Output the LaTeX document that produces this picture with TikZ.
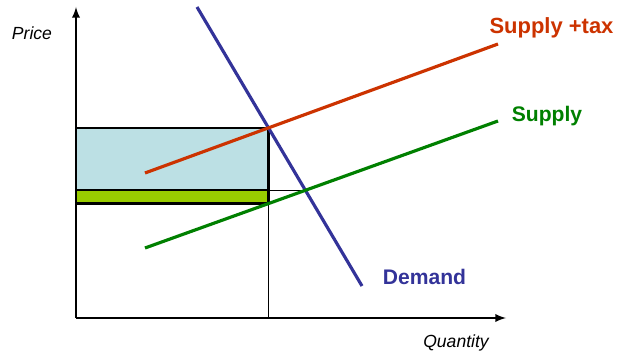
\documentclass[tikz,border=0pt]{standalone}
\usepackage{fontspec}
\setmainfont{Liberation Sans}
\definecolor{taxred}{HTML}{CC3300}
\definecolor{supgreen}{HTML}{008000}
\definecolor{demblue}{HTML}{333399}
\definecolor{burdenblue}{HTML}{BCE0E4}
\definecolor{burdengreen}{HTML}{99CC00}
\tikzset{
    curve/.style={line width=1.8pt},
    axislabel/.style={font=\fontsize{10}{12}\selectfont\itshape},
    curvelabel/.style={font=\fontsize{12}{14}\selectfont\bfseries}
}
\begin{document}
\begin{tikzpicture}
    \useasboundingbox (-1.52,-0.8) rectangle (10.9,6.36);

    % End points of the curves
    \coordinate (dtop) at (2.42,6.22);
    \coordinate (dbot) at (5.72,0.64);
    \coordinate (tstart) at (1.38,2.9);
    \coordinate (tend) at (8.44,5.48);
    \coordinate (sstart) at (1.38,1.4);
    \coordinate (send) at (8.44,3.94);

    % Equilibria
    \coordinate (taxeq) at (intersection of dtop--dbot and tstart--tend);
    \coordinate (oldeq) at (intersection of dtop--dbot and sstart--send);
    \coordinate (sellerp) at (intersection of taxeq--{taxeq|-{0,0}} and sstart--send);

    % Tax burden rectangles
    \filldraw[fill=burdenblue, draw=black, line width=1.3pt] (0,0 |- taxeq) rectangle (oldeq -| taxeq);
    \filldraw[fill=burdengreen, draw=black, line width=1.3pt] (0,0 |- oldeq) rectangle (sellerp);

    % Helper lines
    \draw[line width=0.8pt] (taxeq) -- (taxeq |- 0,0);
    \draw[line width=0.8pt] (oldeq -| taxeq) -- (oldeq);

    % Axes
    \draw[-latex, line width=1.1pt] (0,0) -- (8.6,0);
    \draw[-latex, line width=1.1pt] (0,0) -- (0,6.22);
    \node[axislabel] (price) at (-0.88,5.7) {Price};
    \node[axislabel] (quantity) at (7.6,-0.5) {Quantity};

    % Curves
    \draw[curve, demblue] (dtop) -- (dbot);
    \draw[curve, taxred] (tstart) -- (tend);
    \draw[curve, supgreen] (sstart) -- (send);

    % Curve labels
    \node[curvelabel, text=demblue] (demand) at (6.97,0.82) {Demand};
    \node[curvelabel, text=supgreen] (supply) at (9.42,4.04) {Supply};
    \node[curvelabel, text=taxred, font=\fontsize{12.5}{14}\selectfont\bfseries] (supplytax) at (9.51,5.8) {Supply +tax};
\end{tikzpicture}
\end{document}
